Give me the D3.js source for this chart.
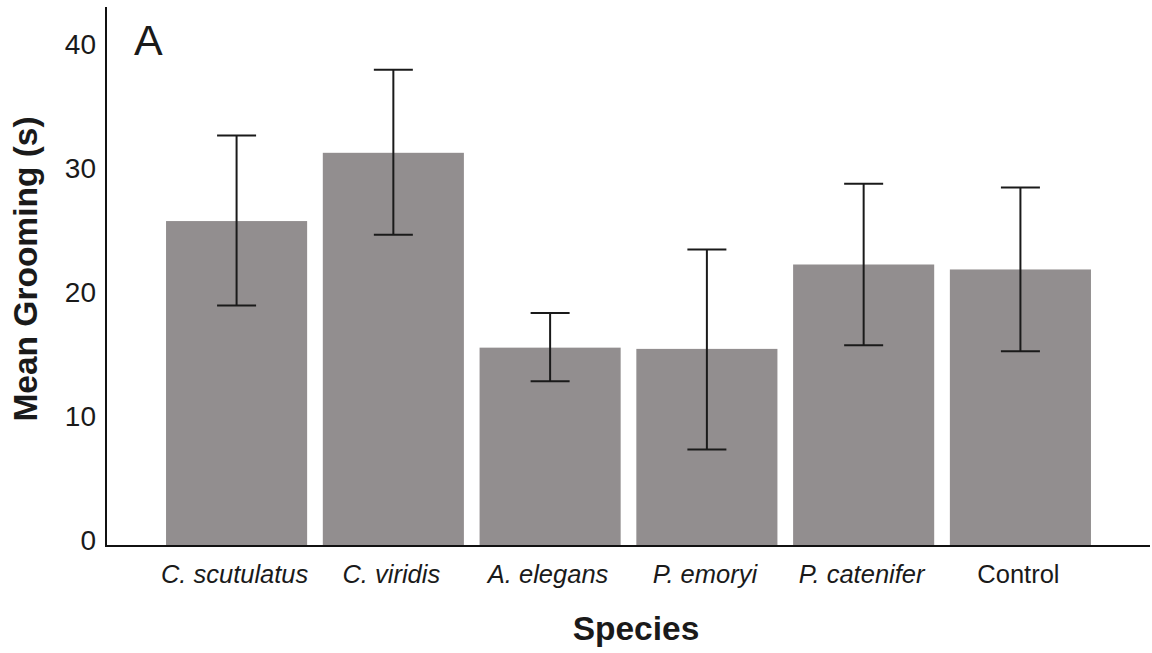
<!DOCTYPE html>
<html>
<head>
<meta charset="utf-8">
<script src="https://cdn.jsdelivr.net/npm/d3@7"></script>
<style>
  html, body { margin: 0; padding: 0; background: #fff; }
  svg { display: block; }
  text { font-family: "Liberation Sans", Arial, sans-serif; fill: #1a1a1a; }
</style>
</head>
<body>
<svg id="chart" width="1152" height="653"></svg>
<script>
// ---- data ----
const categories = ["C. scutulatus", "C. viridis", "A. elegans", "P. emoryi", "P. catenifer", "Control"];
const italicCats = [true, true, true, true, true, false];
const meanValues = [25.7, 31.2, 15.5, 15.4, 22.2, 21.8];
const errLow     = [18.9, 24.6, 12.8, 7.3, 15.7, 15.2];
const errHigh    = [32.6, 37.9, 18.3, 23.4, 28.7, 28.4];
const yTicks = [0, 10, 20, 30, 40];

// ---- layout ----
const svg = d3.select("#chart");
const axisX = 106, baseY = 546, rightX = 1150, topY = 7;

const x = d3.scaleBand()
  .domain(categories)
  .range([158.2, 1098.8])
  .paddingInner(0.1)
  .paddingOuter(0.05);

const y = d3.scaleLinear().domain([0, 40]).range([540, 43.6]);

const data = categories.map((c, i) => ({
  cat: c, v: meanValues[i], lo: errLow[i], hi: errHigh[i], it: italicCats[i]
}));

// bars
svg.append("g").selectAll("rect").data(data).join("rect")
  .attr("x", d => x(d.cat))
  .attr("width", x.bandwidth())
  .attr("y", d => y(d.v))
  .attr("height", d => baseY - y(d.v))
  .attr("fill", "#928e8f");

// error bars
const eg = svg.append("g").attr("stroke", "#1a1a1a").attr("stroke-width", 2);
const capW = 39;
data.forEach(d => {
  const cx = x(d.cat) + x.bandwidth() / 2;
  eg.append("line").attr("x1", cx).attr("x2", cx).attr("y1", y(d.hi)).attr("y2", y(d.lo));
  eg.append("line").attr("x1", cx - capW / 2).attr("x2", cx + capW / 2).attr("y1", y(d.hi)).attr("y2", y(d.hi));
  eg.append("line").attr("x1", cx - capW / 2).attr("x2", cx + capW / 2).attr("y1", y(d.lo)).attr("y2", y(d.lo));
});

// axes lines
svg.append("line").attr("x1", axisX).attr("x2", axisX).attr("y1", topY).attr("y2", baseY + 1)
  .attr("stroke", "#111").attr("stroke-width", 2);
svg.append("line").attr("x1", axisX).attr("x2", rightX).attr("y1", baseY).attr("y2", baseY)
  .attr("stroke", "#111").attr("stroke-width", 2);

// y tick labels
svg.append("g").selectAll("text").data(yTicks).join("text")
  .attr("x", 96)
  .attr("y", d => y(d))
  .attr("dy", "0.36em")
  .attr("text-anchor", "end")
  .attr("font-size", 28)
  .text(d => d);

// category labels
svg.append("g").selectAll("text").data(data).join("text")
  .attr("x", d => x(d.cat) + x.bandwidth() / 2 - 2)
  .attr("y", 583)
  .attr("text-anchor", "middle")
  .attr("font-size", 25.5)
  .attr("font-style", d => d.it ? "italic" : "normal")
  .text(d => d.cat);

// axis titles
svg.append("text")
  .attr("transform", "translate(37,269) rotate(-90)")
  .attr("text-anchor", "middle")
  .attr("font-size", 33.5)
  .attr("font-weight", "bold")
  .text("Mean Grooming (s)");

svg.append("text")
  .attr("x", 636).attr("y", 640)
  .attr("text-anchor", "middle")
  .attr("font-size", 33.5)
  .attr("font-weight", "bold")
  .text("Species");

// panel label
svg.append("text")
  .attr("x", 134).attr("y", 55)
  .attr("font-size", 43)
  .text("A");
</script>
</body>
</html>
